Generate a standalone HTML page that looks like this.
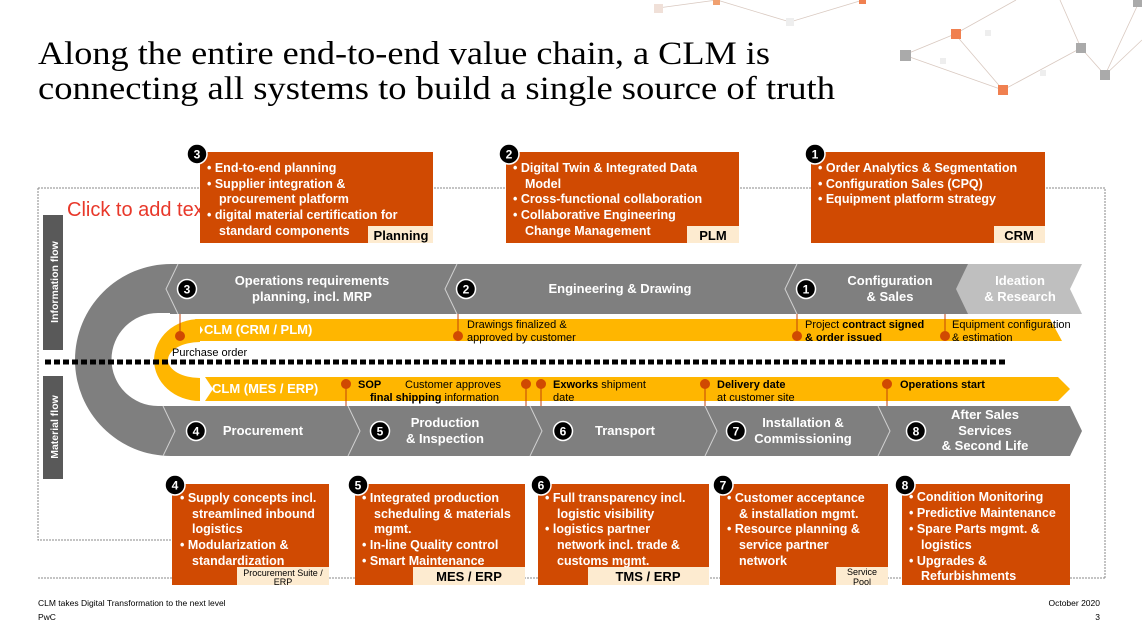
<!DOCTYPE html>
<html><head><meta charset="utf-8"><style>
body{margin:0;background:#fff;width:1142px;height:635px;overflow:hidden;font-family:"Liberation Sans",Arial,sans-serif;}
svg{position:absolute;left:0;top:0}
.t{font-family:"Liberation Sans",Arial,sans-serif}
.b{font-weight:bold}
</style></head><body>
<svg width="1142" height="635" viewBox="0 0 1142 635" xmlns="http://www.w3.org/2000/svg">
<g stroke="#d9c9c0" stroke-width="0.8" fill="none">
<path d="M658,8 L717,0 M717,0 L790,22 L863,0 M904,55 L955,34 L1016,0 M955,34 L1003,90 L1081,48 L1105,75 L1140,0 M904,55 L1003,90 M1081,48 L1060,0 M1105,75 L1142,40"/>
</g>
<g>
<rect x="654" y="4" width="9" height="9" fill="#f0e0d8"/><rect x="713" y="0" width="7" height="5" fill="#f0a070"/><rect x="786" y="18" width="8" height="8" fill="#eeeeee"/><rect x="859" y="0" width="7" height="4" fill="#f08050"/>
<rect x="900" y="50" width="11" height="11" fill="#aaaaaa"/><rect x="951" y="29" width="10" height="10" fill="#f08050"/><rect x="998" y="85" width="10" height="10" fill="#f08050"/>
<rect x="1076" y="43" width="10" height="10" fill="#aaaaaa"/><rect x="1100" y="70" width="10" height="10" fill="#aaaaaa"/><rect x="1133" y="0" width="9" height="7" fill="#aaaaaa"/>
<rect x="940" y="58" width="6" height="6" fill="#eee"/><rect x="1040" y="70" width="6" height="6" fill="#eee"/><rect x="985" y="30" width="6" height="6" fill="#eee"/>
</g>
<text x="38" y="64" font-family="Liberation Serif,serif" font-size="33" fill="#000" textLength="732" lengthAdjust="spacingAndGlyphs">Along the entire end-to-end value chain, a CLM is</text>
<text x="38" y="99" font-family="Liberation Serif,serif" font-size="33" fill="#000" textLength="797" lengthAdjust="spacingAndGlyphs">connecting all systems to build a single source of truth</text>
<path d="M38,188 H1105 V578 M38,188 V540 H172" stroke="#888" stroke-width="1" stroke-dasharray="2,1" fill="none"/>
<line x1="38" y1="578" x2="1105" y2="578" stroke="#888" stroke-width="1" stroke-dasharray="2,1"/>
<text x="67" y="216" font-size="20" fill="#e8382a" class="t">Click to add text</text>
<rect x="43" y="215" width="20" height="135" fill="#595959"/>
<text transform="translate(58,282) rotate(-90)" text-anchor="middle" font-size="10.5" fill="#fff" class="t b">Information flow</text>
<rect x="43" y="376" width="20" height="103" fill="#595959"/>
<text transform="translate(58,427) rotate(-90)" text-anchor="middle" font-size="10.5" fill="#fff" class="t b">Material flow</text>
<path d="M171,264 A96,96 0 0 0 171,456 L171,406 L158,406 A46.5,46.5 0 0 1 158,313 L171,313 Z" fill="#7f7f7f"/>
<rect x="170" y="264" width="800" height="50" fill="#7f7f7f"/>
<path d="M968,264 L1082,264 L1070,289 L1082,314 L968,314 L956,289 Z" fill="#bfbfbf"/>
<path d="M170,406 L1070,406 L1082,431 L1070,456 L170,456 Z" fill="#7f7f7f"/>
<g stroke="#d0d0d0" stroke-width="1" fill="none">
<path d="M178,264 L166,289 L178,314"/><path d="M457,264 L445,289 L457,314"/><path d="M797,264 L785,289 L797,314"/>
<path d="M348,406 L360,431 L348,456"/><path d="M530,406 L542,431 L530,456"/><path d="M705,406 L717,431 L705,456"/><path d="M878,406 L890,431 L878,456"/>
<path d="M163,406 L175,431 L163,456"/>
</g>
<path d="M200,319 A46,41 0 0 0 200,401 L200,378 A32,18 0 0 1 200,342 Z" fill="#ffb600"/>
<path d="M195,319 L1050,319 L1062,341 L195,341 L203,330 Z" fill="#ffb600"/>
<path d="M205,377 L1058,377 L1070,389 L1058,401 L205,401 L213,389 Z" fill="#ffb600"/>
<line x1="45" y1="362" x2="1006" y2="362" stroke="#000" stroke-width="5" stroke-dasharray="6,3"/>
<g stroke="#c0410a" stroke-width="1">
<line x1="180" y1="314" x2="180" y2="336"/><line x1="458" y1="314" x2="458" y2="336"/><line x1="797" y1="314" x2="797" y2="336"/><line x1="945" y1="314" x2="945" y2="336"/>
<line x1="346" y1="384" x2="346" y2="406"/><line x1="526" y1="384" x2="526" y2="406"/><line x1="541" y1="384" x2="541" y2="406"/><line x1="705" y1="384" x2="705" y2="406"/><line x1="887" y1="384" x2="887" y2="406"/>
</g>
<g fill="#d04a02">
<circle cx="180" cy="336" r="5"/><circle cx="458" cy="336" r="5"/><circle cx="797" cy="336" r="5"/><circle cx="945" cy="336" r="5"/>
<circle cx="346" cy="384" r="5"/><circle cx="526" cy="384" r="5"/><circle cx="541" cy="384" r="5"/><circle cx="705" cy="384" r="5"/><circle cx="887" cy="384" r="5"/>
</g>
<g class="t" font-size="11" fill="#000">
<text x="204" y="334" font-size="13" fill="#fff" class="b">CLM (CRM / PLM)</text>
<text x="212" y="393" font-size="13" fill="#fff" class="b">CLM (MES / ERP)</text>
<text x="172" y="356">Purchase order</text>
<text x="467" y="328">Drawings finalized &amp;</text><text x="467" y="341">approved by customer</text>
<text x="805" y="328">Project <tspan class="b">contract signed</tspan></text><text x="805" y="341" class="b">&amp; order issued</text>
<text x="952" y="328">Equipment configuration</text><text x="952" y="341">&amp; estimation</text>
<text x="358" y="388" class="b">SOP</text>
<text x="405" y="388">Customer approves</text><text x="370" y="401"><tspan class="b">final shipping</tspan> information</text>
<text x="553" y="388"><tspan class="b">Exworks</tspan> shipment</text><text x="553" y="401">date</text>
<text x="717" y="388" class="b">Delivery date</text><text x="717" y="401">at customer site</text>
<text x="900" y="388" class="b">Operations start</text>
</g>
<g class="t b" font-size="13" fill="#fff" text-anchor="middle">
<text x="312" y="285">Operations requirements</text><text x="312" y="301">planning, incl. MRP</text>
<text x="620" y="293">Engineering &amp; Drawing</text>
<text x="890" y="285">Configuration</text><text x="890" y="301">&amp; Sales</text>
<text x="1020" y="285">Ideation</text><text x="1020" y="301">&amp; Research</text>
<text x="263" y="435">Procurement</text>
<text x="445" y="427">Production</text><text x="445" y="443">&amp; Inspection</text>
<text x="625" y="435">Transport</text>
<text x="803" y="427">Installation &amp;</text><text x="803" y="443">Commissioning</text>
<text x="985" y="419">After Sales</text><text x="985" y="435">Services</text><text x="985" y="450">&amp; Second Life</text>
</g>
<g class="t b" font-size="12" text-anchor="middle">
<g><circle cx="187" cy="289" r="9.5" fill="#000" stroke="#fff" stroke-width="1.5"/><text x="187" y="293.5" fill="#fff">3</text></g>
<g><circle cx="466" cy="289" r="9.5" fill="#000" stroke="#fff" stroke-width="1.5"/><text x="466" y="293.5" fill="#fff">2</text></g>
<g><circle cx="806" cy="289" r="9.5" fill="#000" stroke="#fff" stroke-width="1.5"/><text x="806" y="293.5" fill="#fff">1</text></g>
<g><circle cx="196" cy="431" r="9.5" fill="#000" stroke="#fff" stroke-width="1.5"/><text x="196" y="435.5" fill="#fff">4</text></g>
<g><circle cx="380" cy="431" r="9.5" fill="#000" stroke="#fff" stroke-width="1.5"/><text x="380" y="435.5" fill="#fff">5</text></g>
<g><circle cx="563" cy="431" r="9.5" fill="#000" stroke="#fff" stroke-width="1.5"/><text x="563" y="435.5" fill="#fff">6</text></g>
<g><circle cx="736" cy="431" r="9.5" fill="#000" stroke="#fff" stroke-width="1.5"/><text x="736" y="435.5" fill="#fff">7</text></g>
<g><circle cx="916" cy="431" r="9.5" fill="#000" stroke="#fff" stroke-width="1.5"/><text x="916" y="435.5" fill="#fff">8</text></g>
</g>
<rect x="200" y="152" width="233" height="91" fill="#d04a02"/>
<rect x="506" y="152" width="233" height="91" fill="#d04a02"/>
<rect x="811" y="152" width="234" height="91" fill="#d04a02"/>
<rect x="368" y="226" width="65" height="17" fill="#fdebd0"/>
<rect x="687" y="226" width="52" height="17" fill="#fdebd0"/>
<rect x="994" y="226" width="51" height="17" fill="#fdebd0"/>
<g class="t b" font-size="12.5" fill="#fff">
<text x="207" y="172">• End-to-end planning</text>
<text x="207" y="188">• Supplier integration &amp;</text><text x="219" y="203">procurement platform</text>
<text x="207" y="219">• digital material certification for</text><text x="219" y="235">standard components</text>
<text x="513" y="172">• Digital Twin &amp; Integrated Data</text><text x="525" y="188">Model</text>
<text x="513" y="203">• Cross-functional collaboration</text>
<text x="513" y="219">• Collaborative Engineering</text><text x="525" y="235">Change Management</text>
<text x="818" y="172">• Order Analytics &amp; Segmentation</text>
<text x="818" y="188">• Configuration Sales (CPQ)</text>
<text x="818" y="203">• Equipment platform strategy</text>
</g>
<g class="t b" font-size="13" fill="#000" text-anchor="middle">
<text x="401" y="240">Planning</text><text x="713" y="240">PLM</text><text x="1019" y="240">CRM</text>
</g>
<rect x="172" y="484" width="157" height="101" fill="#d04a02"/>
<rect x="355" y="484" width="170" height="101" fill="#d04a02"/>
<rect x="538" y="484" width="171" height="101" fill="#d04a02"/>
<rect x="720" y="484" width="168" height="101" fill="#d04a02"/>
<rect x="902" y="484" width="168" height="101" fill="#d04a02"/>
<rect x="237" y="567" width="92" height="18" fill="#fdebd0"/>
<rect x="413" y="567" width="112" height="18" fill="#fdebd0"/>
<rect x="588" y="567" width="121" height="18" fill="#fdebd0"/>
<rect x="836" y="567" width="52" height="18" fill="#fdebd0"/>
<g class="t b" font-size="12.5" fill="#fff">
<text x="180" y="502">• Supply concepts incl.</text><text x="192" y="518">streamlined inbound</text><text x="192" y="533">logistics</text>
<text x="180" y="549">• Modularization &amp;</text><text x="192" y="565">standardization</text>
<text x="362" y="502">• Integrated production</text><text x="374" y="518">scheduling &amp; materials</text><text x="374" y="533">mgmt.</text>
<text x="362" y="549">• In-line Quality control</text><text x="362" y="565">• Smart Maintenance</text>
<text x="545" y="502">• Full transparency incl.</text><text x="557" y="518">logistic visibility</text>
<text x="545" y="533">• logistics partner</text><text x="557" y="549">network incl. trade &amp;</text><text x="557" y="565">customs mgmt.</text>
<text x="727" y="502">• Customer acceptance</text><text x="739" y="518">&amp; installation mgmt.</text>
<text x="727" y="533">• Resource planning &amp;</text><text x="739" y="549">service partner</text><text x="739" y="565">network</text>
<text x="909" y="501">• Condition Monitoring</text><text x="909" y="517">• Predictive Maintenance</text>
<text x="909" y="533">• Spare Parts mgmt. &amp;</text><text x="921" y="549">logistics</text>
<text x="909" y="565">• Upgrades &amp;</text><text x="921" y="580">Refurbishments</text>
</g>
<g class="t" fill="#000" text-anchor="middle">
<text x="283" y="576" font-size="9">Procurement Suite /</text><text x="283" y="585" font-size="9">ERP</text>
<text x="469" y="581" font-size="13" class="b">MES / ERP</text>
<text x="648" y="581" font-size="13" class="b">TMS / ERP</text>
<text x="862" y="575" font-size="9">Service</text><text x="862" y="585" font-size="9">Pool</text>
</g>
<g class="t b" font-size="12" text-anchor="middle">
<g><circle cx="197" cy="154" r="10" fill="#000" stroke="#fff" stroke-width="1.5"/><text x="197" y="158.5" fill="#fff">3</text></g>
<g><circle cx="509" cy="154" r="10" fill="#000" stroke="#fff" stroke-width="1.5"/><text x="509" y="158.5" fill="#fff">2</text></g>
<g><circle cx="815" cy="154" r="10" fill="#000" stroke="#fff" stroke-width="1.5"/><text x="815" y="158.5" fill="#fff">1</text></g>
<g><circle cx="175" cy="485" r="10" fill="#000" stroke="#fff" stroke-width="1.5"/><text x="175" y="489.5" fill="#fff">4</text></g>
<g><circle cx="358" cy="485" r="10" fill="#000" stroke="#fff" stroke-width="1.5"/><text x="358" y="489.5" fill="#fff">5</text></g>
<g><circle cx="541" cy="485" r="10" fill="#000" stroke="#fff" stroke-width="1.5"/><text x="541" y="489.5" fill="#fff">6</text></g>
<g><circle cx="723" cy="485" r="10" fill="#000" stroke="#fff" stroke-width="1.5"/><text x="723" y="489.5" fill="#fff">7</text></g>
<g><circle cx="905" cy="485" r="10" fill="#000" stroke="#fff" stroke-width="1.5"/><text x="905" y="489.5" fill="#fff">8</text></g>
</g>
<g class="t" font-size="8.5" fill="#000">
<text x="38" y="606">CLM takes Digital Transformation to the next level</text>
<text x="38" y="620">PwC</text>
<text x="1100" y="606" text-anchor="end">October 2020</text>
<text x="1100" y="620" text-anchor="end">3</text>
</g>
</svg>
</body></html>
